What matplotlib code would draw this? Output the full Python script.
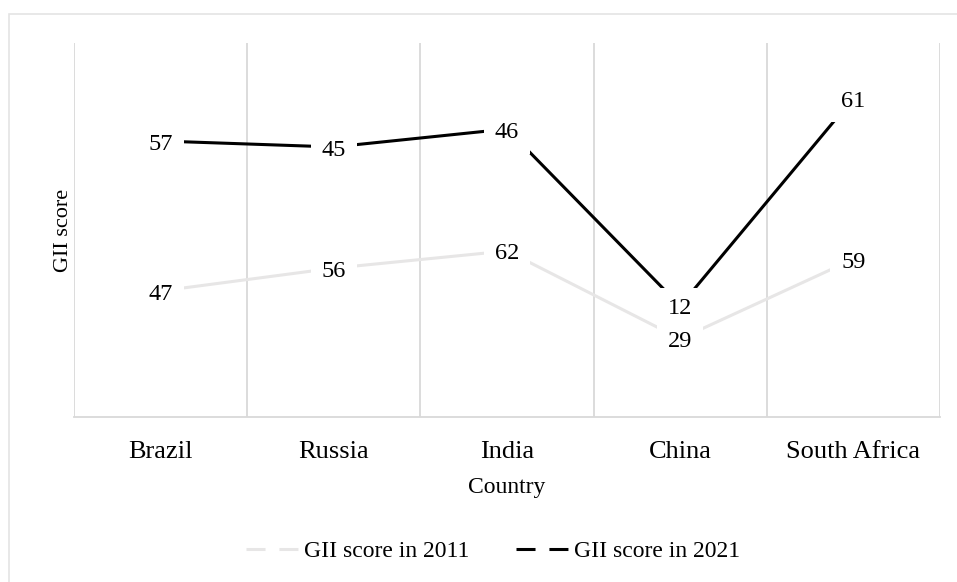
import numpy as np
import matplotlib.pyplot as plt
from matplotlib.lines import Line2D
from matplotlib.patches import Rectangle

plt.rcParams['font.family'] = ['Liberation Serif', 'DejaVu Serif']
plt.rcParams['lines.scale_dashes'] = False

countries = ['Brazil', 'Russia', 'India', 'China', 'South Africa']
# vertical position of each point (chart has no y scale)
pos_2011 = [33.7, 39.8, 44.4, 20.9, 42.2]
pos_2021 = [73.8, 72.2, 77.0, 29.7, 85.3]
# data labels shown at the points
labels_2011 = [47, 56, 62, 29, 59]
labels_2021 = [57, 45, 46, 12, 61]

grey_line = '#e7e6e6'
grid_col = '#d9d9d9'

fig = plt.figure(figsize=(9.57, 5.82), dpi=100)
ax = fig.add_axes([74 / 957, 1 - 417 / 582, (940 - 74) / 957, (417 - 43) / 582])

x = np.arange(len(countries))
ax.plot(x, pos_2011, color=grey_line, lw=2.2, zorder=2, solid_capstyle='butt')
ax.plot(x, pos_2021, color='black', lw=2.2, zorder=2, solid_capstyle='butt')

for xs, ys, labs in [(x, pos_2011, labels_2011), (x, pos_2021, labels_2021)]:
    for xi, yi, lab in zip(xs, ys, labs):
        ax.annotate(str(lab), (xi, yi), xytext=(0, -2.2), textcoords='offset points',
                    ha='center', va='center', fontsize=17.5, zorder=3,
                    bbox=dict(boxstyle='square,pad=0.45', fc='white', ec='none'))

ax.set_xlim(-0.5, len(countries) - 0.5)
ax.set_ylim(0, 100)
ax.set_xticks(x)
ax.set_xticklabels(countries, fontsize=19)
ax.set_xticks(np.arange(-0.5, len(countries), 1.0), minor=True)
ax.tick_params(axis='x', which='both', length=0, pad=17)
ax.set_yticks([])
ax.grid(which='minor', axis='x', color=grid_col, lw=1.3)
ax.set_axisbelow(True)
for s in ['top', 'right', 'left']:
    ax.spines[s].set_visible(False)
ax.spines['bottom'].set_color(grid_col)
ax.spines['bottom'].set_linewidth(1.3)

ax.set_xlabel('Country', fontsize=17, labelpad=10.5)
ax.set_ylabel('GII score', fontsize=16, labelpad=1)

handles = [Line2D([], [], color=grey_line, lw=2.2, linestyle=(0, (13.7, 10))),
           Line2D([], [], color='black', lw=2.2, linestyle=(0, (13.7, 10)))]
fig.legend(handles, ['GII score in 2011', 'GII score in 2021'], loc='center',
           bbox_to_anchor=(493 / 957, 1 - 551 / 582), ncol=2, frameon=False,
           fontsize=17, handlelength=2.2, handletextpad=0.25, columnspacing=2.0)

# light border around the chart area
fig.patches.append(Rectangle((9 / 957, -0.1), 1.2, 1 - 14 / 582 + 0.1,
                             transform=fig.transFigure, fill=False,
                             ec='#e4e4e4', lw=1.2))

fig.savefig('out.png', dpi=100)
